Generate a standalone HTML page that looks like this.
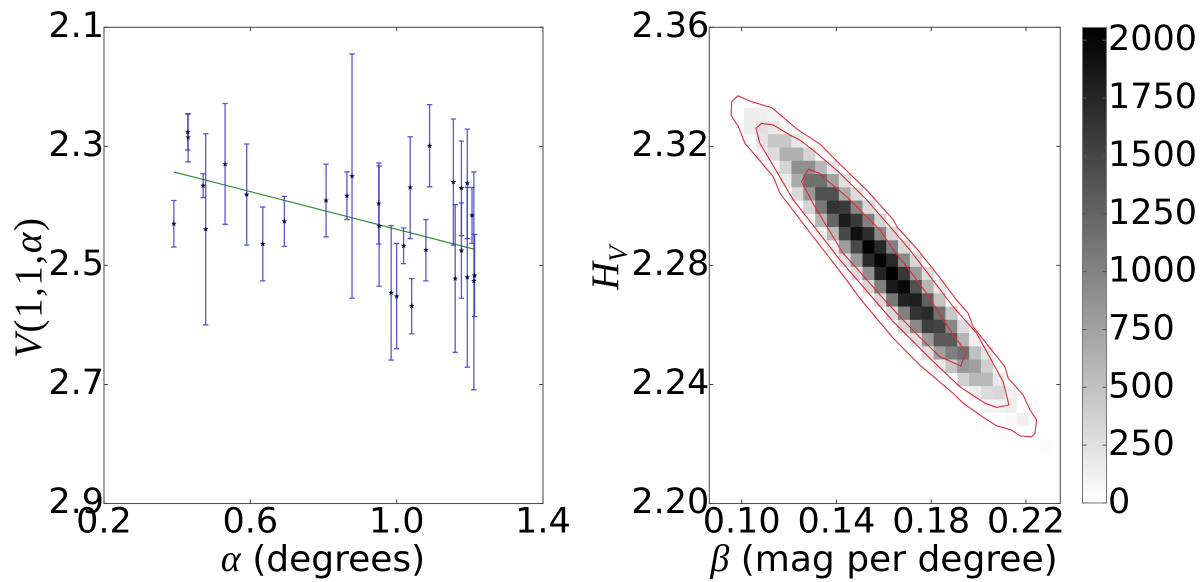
<!DOCTYPE html>
<html lang="en">
<head>
<meta charset="utf-8">
<title>Phase curve fit and posterior density</title>
<style>
html,body{margin:0;padding:0;background:#fff;}
svg{display:block;}
text{font-family:"DejaVu Sans","Liberation Sans",sans-serif;fill:#000;}
.tick{font-size:35px;}
.serif{font-family:"Liberation Serif",serif;}
</style>
</head>
<body>
<svg id="chart" xmlns="http://www.w3.org/2000/svg" width="1200" height="582" viewBox="0 0 1200 582">
<defs>
<linearGradient id="cbGrad" x1="0" y1="1" x2="0" y2="0"><stop offset="0" stop-color="#fff"/><stop offset="1" stop-color="#000"/></linearGradient>
</defs>
<rect width="1200" height="582" fill="#fff"/>
<g id="left"></g>
<g id="right"></g>
<g id="cb"></g>
<text x="323" y="571" text-anchor="middle" font-size="36"><tspan class="serif" font-style="italic" font-size="38">α</tspan> (degrees)</text>
<text transform="translate(41,288) rotate(-90)" text-anchor="middle" class="serif" font-size="39" textLength="140"><tspan font-style="italic">V</tspan>(1,1,<tspan font-style="italic">α</tspan>)</text>
<text x="884" y="571" text-anchor="middle" font-size="36"><tspan class="serif" font-style="italic" font-size="38">β</tspan> (mag per degree)</text>
<text transform="translate(618,290) rotate(-90)" class="serif" font-size="39" font-style="italic">H<tspan font-size="26" dy="9">V</tspan></text>
</svg>
<script>
const alphaValues=[0.391,0.429,0.430,0.471,0.478,0.531,0.590,0.634,0.693,0.807,0.864,0.878,0.951,0.952,0.985,1.000,1.019,1.037,1.041,1.080,1.090,1.155,1.160,1.177,1.177,1.193,1.193,1.206,1.211,1.213];
const magnitudes=[2.430,2.276,2.285,2.366,2.439,2.330,2.381,2.464,2.426,2.391,2.383,2.350,2.396,2.434,2.546,2.552,2.467,2.369,2.568,2.474,2.299,2.360,2.522,2.370,2.475,2.362,2.520,2.416,2.526,2.517];
const errorTops=[2.391,2.245,2.246,2.346,2.279,2.228,2.296,2.402,2.384,2.330,2.343,2.145,2.328,2.333,2.433,2.463,2.437,2.284,2.522,2.423,2.230,2.254,2.398,2.291,2.395,2.271,2.369,2.369,2.343,2.448];
const errorBottoms=[2.469,2.306,2.326,2.386,2.600,2.431,2.466,2.526,2.468,2.452,2.423,2.555,2.464,2.535,2.659,2.640,2.497,2.455,2.615,2.526,2.368,2.466,2.646,2.450,2.555,2.455,2.671,2.463,2.709,2.586];
const fitAlpha=[0.391,1.213];
const fitMagnitude=[2.343,2.473];
const leftXTicks=["0.2","0.6","1.0","1.4"];
const leftYTicks=["2.1","2.3","2.5","2.7","2.9"];
const rightXTicks=["0.10","0.14","0.18","0.22"];
const rightYTicks=["2.36","2.32","2.28","2.24","2.20"];
const colorbarTicks=["0","250","500","750","1000","1250","1500","1750","2000"];
const histBetaStart=0.101,histBetaStep=0.005,histHvStart=2.33297,histHvStep=0.004454;
const histFirstColumn=[0,0,1,1,2,3,4,5,6,6,7,8,9,10,11,12,13,14,15,16,18,19,20,22,21,25];
const histCounts=[
[137,137,80],
[153,250,185,89],
[210,443,443,185],
[121,282,637,637,338],
[80,338,895,895,572,210],
[161,685,1153,1153,766,250],
[298,822,1410,1410,685,282],
[338,1096,1644,1588,959,298],
[596,1233,1830,1604,1024,338],
[121,548,1475,1926,1684,959,314],
[145,770,1475,2040,1733,1024,314],
[250,822,1717,2015,1717,959,314],
[282,895,1757,2055,1604,822,282],
[314,1024,1862,1975,1410,596,185],
[314,1096,1781,1813,1283,483],
[314,1024,1644,1717,1153,443],
[338,959,1556,1507,959,282],
[250,822,1330,1330,596,137],
[250,766,1024,1153,508,210],
[169,459,822,766,379],
[379,572,572,185],
[145,282,314,121],
[89,105,137],
[60,121],
[25,25],
[25]];
const outerBeta=[.0984,.1042,.1127,.1169,.1235,.1330,.1422,.1528,.1640,.1657,.1744,.1837,.1907,.1956,.1977,.2111,.2125,.2188,.2217,.2245,.2238,.2224,.2174,.2139,.2076,.2027,.1935,.1893,.1752,.1640,.1499,.1443,.1359,.1302,.1162,.1133,.1056,.1014,.0986,.0955,.0958];
const outerHv=[2.3370,2.3350,2.3330,2.3302,2.3257,2.3208,2.3134,2.3053,2.2953,2.2928,2.2852,2.2758,2.2684,2.2639,2.2594,2.2460,2.2421,2.2365,2.2314,2.2281,2.2236,2.2224,2.2227,2.2247,2.2261,2.2286,2.2337,2.2370,2.2465,2.2555,2.2689,2.2751,2.2838,2.2896,2.3042,2.3098,2.3171,2.3210,2.3266,2.3305,2.3350];
const middleBeta=[.1084,.1133,.1204,.1246,.1309,.1408,.1528,.1626,.1710,.1893,.1992,.2104,.2128,.2076,.2027,.1921,.1802,.1640,.1499,.1415,.1317,.1218,.1119,.1077,.1060];
const middleHv=[2.3277,2.3272,2.3238,2.3221,2.3182,2.3115,2.3020,2.2930,2.2852,2.2661,2.2572,2.2409,2.2331,2.2323,2.2337,2.2392,2.2482,2.2611,2.2741,2.2818,2.2919,2.3020,2.3154,2.3210,2.3261];
const innerBeta=[.1281,.1330,.1359,.1443,.1584,.1640,.1696,.1781,.1893,.1947,.1925,.1837,.1752,.1668,.1584,.1499,.1427,.1305,.1253];
const innerHv=[2.3123,2.3109,2.3087,2.3031,2.2919,2.2852,2.2796,2.2706,2.2566,2.2510,2.2462,2.2493,2.2558,2.2628,2.2701,2.2778,2.2842,2.3003,2.3081];

const NS='http://www.w3.org/2000/svg';
function mk(parent,tag,attrs){
  const el=document.createElementNS(NS,tag);
  for(const k in attrs)el.setAttribute(k,attrs[k]);
  parent.appendChild(el);
  return el;
}
const L={x0:104,x1:543,y0:27.3,y1:503.5};
const R={x0:709.3,x1:1060.3,y0:27.3,y1:503.5};
const xL=v=>L.x0+(v-0.2)/1.2*(L.x1-L.x0);
const yL=v=>L.y0+(v-2.1)/0.8*(L.y1-L.y0);
const xR=v=>741.7+(v-0.10)*2368.75;
const yR=v=>R.y0+(2.36-v)/0.16*(R.y1-R.y0);
const countMax=2055;
const grayOf=c=>{const g=Math.round(255*(1-c/countMax));return `rgb(${g},${g},${g})`;};
const yC=c=>503-c*(57.85/250);

const left=document.getElementById('left');
const right=document.getElementById('right');
const cb=document.getElementById('cb');

/* left panel marks */
const fit=mk(left,'line',{x1:xL(fitAlpha[0]),y1:yL(fitMagnitude[0]),x2:xL(fitAlpha[1]),y2:yL(fitMagnitude[1]),stroke:'#2e8b2e','stroke-width':1.1});


alphaValues.forEach((a,i)=>{
  const x=xL(a),t=yL(errorTops[i]),b=yL(errorBottoms[i]);
  const bar=mk(left,'path',{d:`M${x} ${t}V${b}M${x-2.7} ${t}H${x+2.7}M${x-2.7} ${b}H${x+2.7}`,stroke:'#3a3ad0','stroke-width':1.3,fill:'none','stroke-opacity':0.85});
  
  
});
alphaValues.forEach((a,i)=>{
  const x=xL(a),y=yL(magnitudes[i]);
  let pts='';
  for(let k=0;k<10;k++){
    const r=k%2?1.2:2.9,th=-Math.PI/2+k*Math.PI/5;
    pts+=(x+r*Math.cos(th)).toFixed(2)+','+(y+r*Math.sin(th)).toFixed(2)+' ';
  }
  const star=mk(left,'polygon',{points:pts,fill:'#05053a'});
  
  
});

/* right panel heatmap */
histCounts.forEach((row,r)=>{
  row.forEach((c,j)=>{
    const k=histFirstColumn[r]+j;
    const xa=xR(histBetaStart+k*histBetaStep),xb=xR(histBetaStart+(k+1)*histBetaStep);
    const ya=yR(histHvStart-r*histHvStep),yb=yR(histHvStart-(r+1)*histHvStep);
    const cell=mk(right,'rect',{x:xa,y:ya,width:xb-xa+0.3,height:yb-ya+0.3,fill:grayOf(c)});
    
    
  });
});
function contourPoints(bs,hs){return bs.map((b,i)=>xR(b).toFixed(1)+','+yR(hs[i]).toFixed(1)).join(' ');}
const outer=mk(right,'polygon',{points:contourPoints(outerBeta,outerHv),fill:'none',stroke:'#dc2c3c','stroke-width':1.1});


const middle=mk(right,'polygon',{points:contourPoints(middleBeta,middleHv),fill:'none',stroke:'#dc2c3c','stroke-width':1.1});


const inner=mk(right,'polygon',{points:contourPoints(innerBeta,innerHv),fill:'none',stroke:'#dc2c3c','stroke-width':1.1});



/* frames and ticks */
function frame(parent,b){
  const f=mk(parent,'rect',{x:b.x0,y:b.y0,width:b.x1-b.x0,height:b.y1-b.y0,fill:'none',stroke:'#555','stroke-width':1.1});
  
  
}
frame(left,L);
frame(right,R);
leftXTicks.forEach(t=>{
  const x=xL(+t);
  const m=mk(left,'path',{d:`M${x} ${L.y1}v-4M${x} ${L.y0}v4`,stroke:'#444','stroke-width':1});
  
  
  const l=mk(left,'text',{x:x,y:532.5,'text-anchor':'middle',class:'tick'});
  
  
  l.textContent=t;
});
leftYTicks.forEach(t=>{
  const y=yL(+t);
  const m=mk(left,'path',{d:`M${L.x0} ${y}h4M${L.x1} ${y}h-4`,stroke:'#444','stroke-width':1});
  
  
  const l=mk(left,'text',{x:L.x0,y:y+9.5,'text-anchor':'end',class:'tick'});
  
  
  l.textContent=t;
});
rightXTicks.forEach(t=>{
  const x=xR(+t);
  const m=mk(right,'path',{d:`M${x} ${R.y1}v-4M${x} ${R.y0}v4`,stroke:'#444','stroke-width':1});
  
  
  const l=mk(right,'text',{x:x,y:532.5,'text-anchor':'middle',class:'tick'});
  
  
  l.textContent=t;
});
rightYTicks.forEach(t=>{
  const y=yR(+t);
  const m=mk(right,'path',{d:`M${R.x0} ${y}h4M${R.x1} ${y}h-4`,stroke:'#444','stroke-width':1});
  
  
  const l=mk(right,'text',{x:R.x0,y:y+9.5,'text-anchor':'end',class:'tick'});
  
  
  l.textContent=t;
});

/* colorbar */
const bar=mk(cb,'rect',{x:1082.5,y:yC(countMax),width:24,height:yC(0)-yC(countMax),fill:'url(#cbGrad)',stroke:'#777','stroke-width':1});


colorbarTicks.forEach(t=>{
  const y=yC(+t);
  const m=mk(cb,'path',{d:`M1106.5 ${y}h-4M1082.5 ${y}h4`,stroke:'#555','stroke-width':1});
  
  
  const l=mk(cb,'text',{x:1108,y:y+10,class:'tick'});
  
  
  l.textContent=t;
});
</script>
</body>
</html>
